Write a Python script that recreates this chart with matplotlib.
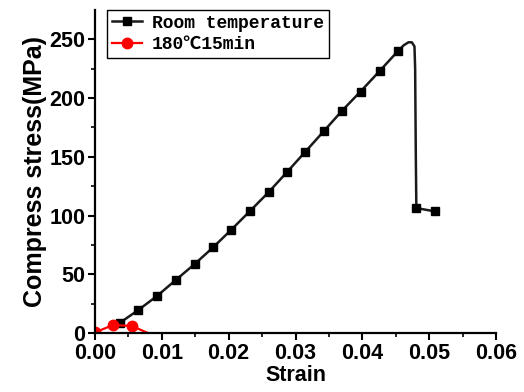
import numpy as np
import matplotlib.pyplot as plt

plt.rcParams['font.family'] = ['Liberation Sans', 'DejaVu Sans']
plt.rcParams['axes.unicode_minus'] = False

# Room temperature curve (strain, stress in MPa)
rt_strain = [0.00375, 0.00649, 0.00934, 0.0121, 0.01489, 0.01765, 0.02039,
             0.02313, 0.02598, 0.02874, 0.03148, 0.03423, 0.03699, 0.03973,
             0.04258, 0.04532, 0.0462, 0.0469, 0.0474, 0.0478, 0.0479,
             0.0480, 0.04808, 0.05087]
rt_stress = [8.8, 19.6, 31.8, 45.2, 58.6, 72.8, 87.9, 103.5, 119.9, 137.1,
             154.4, 171.8, 189.4, 205.6, 223.0, 240.0, 245.0, 247.5, 247.5,
             244.0, 225.0, 150.0, 106.4, 103.5]
rt_marks = list(range(16)) + [22, 23]

# 180C 15min curve
ht_strain = [0.0, 0.0027, 0.0055, 0.0078]
ht_stress = [0.5, 6.8, 6.0, 0.3]
ht_marks = [0, 1, 2]

fig = plt.figure(figsize=(5.24, 3.92), dpi=100)
ax = fig.add_axes([0.1813, 0.1505, 0.7653, 0.824])

ax.plot(rt_strain, rt_stress, color='#1a1a1a', lw=1.8, marker='s', ms=6.3,
        mfc='black', mec='black', markevery=rt_marks, label='Room temperature')
ax.plot(ht_strain, ht_stress, color='red', lw=1.6, marker='o', ms=7.5,
        mfc='red', mec='red', markevery=ht_marks, label='180℃15min')

ax.set_xlim(0, 0.06)
ax.set_ylim(0, 275)
ax.set_xticks([0, 0.01, 0.02, 0.03, 0.04, 0.05, 0.06])
ax.set_xticklabels(['0.00', '0.01', '0.02', '0.03', '0.04', '0.05', '0.06'])
ax.set_yticks([0, 50, 100, 150, 200, 250])
ax.set_xticks(np.arange(0.005, 0.06, 0.01), minor=True)
ax.set_yticks(np.arange(25, 275, 50), minor=True)

for s in ['top', 'right']:
    ax.spines[s].set_visible(False)
for s in ['left', 'bottom']:
    ax.spines[s].set_linewidth(1.6)

ax.tick_params(which='major', direction='out', length=5, width=1.5,
               labelsize=15.5, pad=2)
ax.tick_params(which='minor', direction='out', length=3, width=1.2)
for lab in ax.get_xticklabels() + ax.get_yticklabels():
    lab.set_fontweight('bold')

ax.set_xlabel('Strain', fontsize=15.5, fontweight='bold', labelpad=1)
ax.set_ylabel('Compress stress(MPa)', fontsize=18, fontweight='bold', labelpad=2)

leg = ax.legend(loc='upper left', bbox_to_anchor=(0.03, 1.0), borderaxespad=0,
                prop={'family': ['Liberation Mono', 'DejaVu Sans Mono', 'Noto Sans CJK SC'],
                      'size': 13, 'weight': 'bold'},
                frameon=True, fancybox=False, edgecolor='black', framealpha=1,
                handlelength=1.7, handletextpad=0.55, borderpad=0.25,
                labelspacing=0.25)
leg.get_frame().set_linewidth(1.0)

fig.savefig('out.png', dpi=100)
